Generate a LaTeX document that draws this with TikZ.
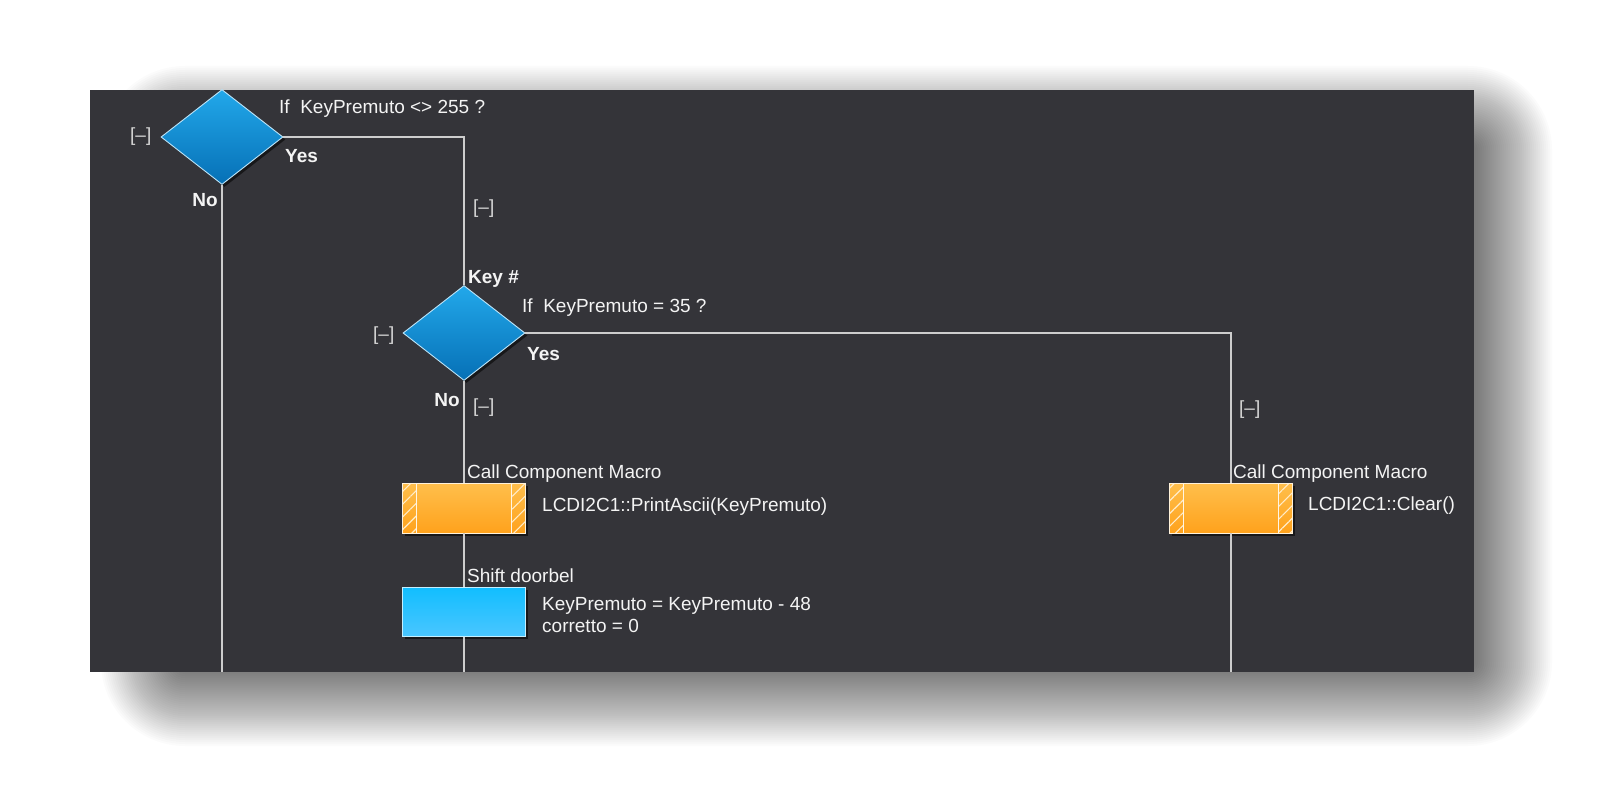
\documentclass[tikz,border=0pt]{standalone}
\usepackage{fontspec}
\setmainfont{Liberation Sans}
\usetikzlibrary{shapes.geometric,shadows,patterns.meta}
\definecolor{panel}{HTML}{343439}
\definecolor{wire}{HTML}{CDCDCD}
\definecolor{txt}{HTML}{F4F4F4}
\definecolor{brk}{HTML}{D6D6D6}
\definecolor{dtop}{HTML}{22A8EA}
\definecolor{dbot}{HTML}{0670B6}
\definecolor{otop}{HTML}{FFBF4C}
\definecolor{obot}{HTML}{FFA21C}
\definecolor{btop}{HTML}{12BEFF}
\definecolor{bbot}{HTML}{4AC6FF}
\begin{document}
\begin{tikzpicture}[x=1pt,y=-1pt,
  font=\fontsize{19}{22}\selectfont,
  wire/.style={draw=wire,line width=1.8pt},
  lbl/.style={text=txt,inner sep=0pt,anchor=base west},
  lblb/.style={lbl,font=\fontsize{19}{22}\selectfont\bfseries},
  lblbe/.style={lblb,anchor=base east},
  brk/.style={text=brk,inner sep=0pt,anchor=base west},
  boxshadow/.style={drop shadow={shadow xshift=2.5pt,shadow yshift=-2.5pt,fill=black,opacity=0.55}},
  decision/.style={diamond,inner sep=0pt,minimum width=122pt,minimum height=95pt,
    top color=dtop,bottom color=dbot,draw=white!70!dtop,line width=0.9pt,boxshadow},
  macrobox/.style={rectangle,inner sep=0pt,minimum width=123pt,minimum height=50pt,
    top color=otop,bottom color=obot,draw=white!80!otop,line width=0.9pt,boxshadow,
    path picture={
      \fill[pattern={Lines[angle=45,distance=9pt,line width=1.1pt]},pattern color=white!70!otop]
        (path picture bounding box.north west) rectangle ([xshift=14pt]path picture bounding box.south west);
      \fill[pattern={Lines[angle=45,distance=9pt,line width=1.1pt]},pattern color=white!70!otop]
        (path picture bounding box.north east) rectangle ([xshift=-14pt]path picture bounding box.south east);
      \draw[white!85!otop,line width=1pt]
        ([xshift=14pt]path picture bounding box.north west) -- ([xshift=14pt]path picture bounding box.south west);
      \draw[white!85!otop,line width=1pt]
        ([xshift=-14pt]path picture bounding box.north east) -- ([xshift=-14pt]path picture bounding box.south east);
    }},
  calcbox/.style={rectangle,inner sep=0pt,minimum width=123pt,minimum height=49pt,
    top color=btop,bottom color=bbot,draw=white!75!btop,line width=0.9pt,boxshadow}
]
\useasboundingbox (0,0) rectangle (1603,805);
\fill[white] (0,0) rectangle (1603,805);
% blurred drop shadow of the panel
\foreach \r in {0,2,...,84} {
  \fill[black,opacity=0.016,rounded corners=\r pt] (185-\r,150-\r) rectangle (1468+\r,662+\r);
}
% panel
\fill[panel] (90,90) rectangle (1474,672);

% nodes
\node[decision] (d1) at (222,137) {};
\node[decision] (d2) at (464,333) {};
\node[macrobox] (m1) at (464,508) {};
\node[macrobox] (m2) at (1231,508) {};
\node[calcbox] (c1) at (464,612) {};
\coordinate (e1) at (222,672);
\coordinate (e2) at (464,672);
\coordinate (e3) at (1231,672);

% connectors
\draw[wire] (d1.south) -- (e1);
\draw[wire] (d1.east) -| (d2.north);
\draw[wire] (d2.east) -| (m2.north);
\draw[wire] (d2.south) -- (m1.north);
\draw[wire] (m1.south) -- (c1.north);
\draw[wire] (c1.south) -- (e2);
\draw[wire] (m2.south) -- (e3);

% labels
\node[lbl] (t1) at (279,114) {If\ \ KeyPremuto <> 255 ?};
\node[brk] (b1) at (130,142) {[\textendash]};
\node[lblb] (y1) at (285,163) {Yes};
\node[lblbe] (n1) at (218,207) {No};
\node[brk] (b2) at (473,214) {[\textendash]};
\node[lblb] (k1) at (468,283) {Key \#};
\node[lbl] (t2) at (522,312) {If\ \ KeyPremuto = 35 ?};
\node[brk] (b3) at (373,340) {[\textendash]};
\node[lblb] (y2) at (527,360) {Yes};
\node[lblbe] (n2) at (460,406) {No};
\node[brk] (b4) at (473,412) {[\textendash]};
\node[brk] (b5) at (1239,414) {[\textendash]};
\node[lbl] (h1) at (467,478) {Call Component Macro};
\node[lbl] (p1) at (542,511) {LCDI2C1::PrintAscii(KeyPremuto)};
\node[lbl] (h2) at (1233,478) {Call Component Macro};
\node[lbl] (p2) at (1308,510) {LCDI2C1::Clear()};
\node[lbl] (h3) at (467,582) {Shift doorbel};
\node[lbl] (p3) at (542,610) {KeyPremuto = KeyPremuto - 48};
\node[lbl] (p4) at (542,632) {corretto = 0};
\end{tikzpicture}
\end{document}
